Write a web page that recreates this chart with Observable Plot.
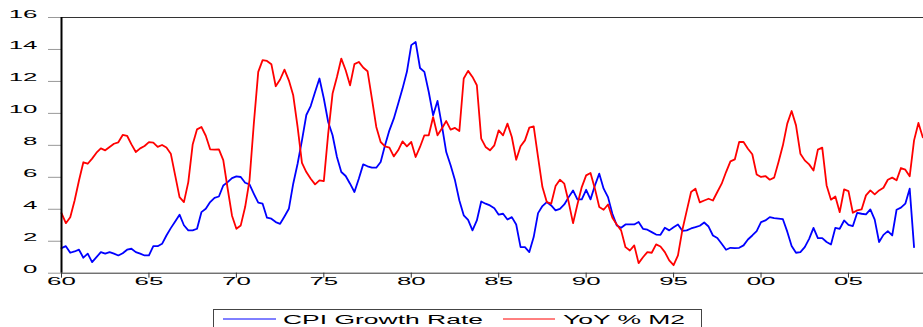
<!DOCTYPE html>
<html>
<head>
<meta charset="utf-8">
<script src="https://cdn.jsdelivr.net/npm/d3@7"></script>
<script src="https://cdn.jsdelivr.net/npm/@observablehq/plot@0.6"></script>
<style>
  html, body { margin: 0; padding: 0; background: #fff; overflow: hidden; }
  #chart svg { display: block; }
</style>
</head>
<body>
<div id="chart"></div>
<script>
// Quarterly observations, first one is 1960Q1
const startYear = 1960;

// CPI growth rate (%), 1960Q1 - 2008Q4
const cpiGrowth = [
  1.57, 1.69, 1.28, 1.36,  1.47, 0.97, 1.22, 0.69,  1.00, 1.32, 1.22, 1.32,
  1.22, 1.11, 1.25, 1.47,  1.53, 1.32, 1.22, 1.11,  1.11, 1.69, 1.69, 1.84,
  2.36, 2.82, 3.24, 3.66,  3.00, 2.68, 2.68, 2.78,  3.82, 4.03, 4.45, 4.72,
  4.80, 5.49, 5.70, 5.95,  6.06, 6.02, 5.66, 5.56,  4.97, 4.41, 4.35, 3.47,
  3.41, 3.20, 3.09, 3.55,  4.03, 5.60, 6.85, 8.31,  9.90, 10.46, 11.34, 12.18,
  10.93, 9.46, 8.63, 7.27, 6.33, 6.08, 5.60, 5.08,  5.91, 6.81, 6.69, 6.60,
  6.60, 6.96, 8.00, 8.94,  9.67, 10.61, 11.55, 12.60, 14.27, 14.47, 12.84, 12.60,
  11.34, 9.88, 10.78, 9.25, 7.58, 6.75, 5.81, 4.55, 3.62, 3.34, 2.68, 3.30,
  4.49, 4.35, 4.24, 4.07,  3.66, 3.72, 3.36, 3.51,  3.05, 1.63, 1.63, 1.32,
  2.26, 3.76, 4.20, 4.45,  4.24, 3.93, 4.03, 4.30,  4.76, 5.18, 4.62, 4.62,
  5.22, 4.62, 5.49, 6.23,  5.29, 4.76, 3.72, 2.99,  2.84, 3.05, 3.05, 3.05,
  3.20, 2.78, 2.72, 2.57,  2.42, 2.40, 2.84, 2.68,  2.88, 3.05, 2.65, 2.68,
  2.80, 2.88, 2.97, 3.17,  2.92, 2.36, 2.20, 1.84,  1.47, 1.59, 1.57, 1.59,
  1.74, 2.11, 2.36, 2.63,  3.20, 3.30, 3.51, 3.45,  3.42, 3.38, 2.60, 1.70,
  1.28, 1.32, 1.63, 2.15,  2.84, 2.20, 2.20, 1.95,  1.80, 2.84, 2.78, 3.30,
  3.03, 2.95, 3.78, 3.72,  3.68, 3.99, 3.35, 1.95,  2.40, 2.63, 2.36, 3.97,
  4.10, 4.35, 5.29, 1.63
];

// Year-over-year % change in M2, 1960Q1 - 2009Q2
const m2Growth = [
  3.76, 3.13, 3.50, 4.55,  5.80, 6.94, 6.85, 7.17,  7.54, 7.81, 7.69, 7.90,
  8.10, 8.19, 8.65, 8.60,  8.06, 7.58, 7.81, 7.96,  8.20, 8.17, 7.90, 8.02,
  7.86, 7.48, 6.12, 4.76,  4.45, 5.70, 8.05, 9.00,  9.15, 8.60, 7.75, 7.73,
  7.75, 7.08, 5.30, 3.60,  2.78, 2.99, 4.14, 5.81,  9.40, 12.60, 13.33, 13.28,
  13.08, 11.70, 12.12, 12.74, 12.07, 11.13, 9.15, 6.90, 6.33, 5.91, 5.56, 5.81,
  5.76, 8.73, 11.24, 12.28, 13.43, 12.70, 11.76, 13.08, 13.22, 12.87, 12.64, 10.93,
  9.15, 8.21, 7.94, 7.86,  7.31, 7.69, 8.25, 7.94,  8.21, 7.27, 7.90, 8.63,
  8.63, 9.77, 8.63, 9.05,  9.52, 8.98, 9.09, 8.90,  12.18, 12.66, 12.28, 11.76,
  8.42, 7.90, 7.69, 8.00,  8.94, 8.63, 9.36, 8.52,  7.10, 7.94, 8.31, 9.11,
  9.19, 7.27, 5.39, 4.45,  4.35, 5.45, 5.85, 5.60,  4.45, 3.13, 4.30, 5.39,
  6.12, 6.27, 5.29, 4.14,  3.97, 4.30, 3.47, 3.05,  2.68, 1.63, 1.42, 1.74,
  0.63, 1.00, 1.32, 1.28,  1.80, 1.67, 1.32, 0.80,  0.50, 1.11, 2.70, 3.90,
  5.08, 5.29, 4.43, 4.55,  4.66, 4.55, 5.08, 5.60,  6.33, 7.00, 7.12, 8.21,
  8.21, 7.79, 7.44, 6.18,  6.02, 6.08, 5.85, 5.98,  6.96, 8.00, 9.36, 10.15,
  9.25, 7.48, 7.06, 6.81,  6.43, 7.73, 7.86, 5.49,  4.60, 4.80, 3.82, 5.24,
  5.14, 3.78, 3.93, 3.99,  4.87, 5.18, 4.93, 5.18,  5.35, 5.85, 5.98, 5.81,
  6.58, 6.48, 6.06, 8.31,  9.40, 8.50
];

const seriesNames = ["CPI Growth Rate", "YoY % M2"];
const seriesColors = ["#0000ff", "#ff0000"];

const yTicks = [0, 2, 4, 6, 8, 10, 12, 14, 16];
const xTicks = [1960, 1965, 1970, 1975, 1980, 1985, 1990, 1995, 2000, 2005];
const xTickLabels = ["60", "65", "70", "75", "80", "85", "90", "95", "00", "05"];

const toRows = (values, name) =>
  values.map((v, i) => ({date: startYear + i / 4, value: v, series: name}));

const cpiRows = toRows(cpiGrowth, seriesNames[0]);
const m2Rows = toRows(m2Growth, seriesNames[1]);

const W = 923, H = 305;
const FONT = "'Liberation Sans', Arial, Helvetica, sans-serif";

const chart = Plot.plot({
  width: W,
  height: H,
  marginLeft: 61,
  marginRight: 0,
  marginTop: 17,
  marginBottom: H - 272.7,
  style: {fontFamily: FONT, fontSize: "11.5px", background: "#fff", color: "#000", overflow: "visible"},
  x: {domain: [1960, 2009.29], axis: null},
  y: {domain: [0, 16], axis: null},
  marks: [
    Plot.ruleY([16], {stroke: "#333", strokeWidth: 1}),
    Plot.lineY(cpiRows, {x: "date", y: "value", stroke: seriesColors[0], strokeWidth: 1.8}),
    Plot.lineY(m2Rows, {x: "date", y: "value", stroke: seriesColors[1], strokeWidth: 1.8}),
    Plot.ruleY([0], {stroke: "#333", strokeWidth: 1}),
    Plot.axisY({ticks: yTicks, tickSize: 13, tickPadding: 11, tickFormat: d => String(d),
                stroke: "#999", fill: "#000", label: null}),
    Plot.axisX({ticks: xTicks, tickSize: 5, tickPadding: 7,
                tickFormat: d => xTickLabels[xTicks.indexOf(d)], stroke: "#333", fill: "#000", label: null}),
    Plot.ruleX([1960], {stroke: "#000", strokeWidth: 2})
  ]
});

// Tick labels are set in a wide, horizontally stretched face
function stretchText(t, sx) {
  const x = +t.getAttribute("x") || 0;
  const y = +t.getAttribute("y") || 0;
  t.removeAttribute("x");
  t.removeAttribute("y");
  const tr = t.getAttribute("transform") || "";
  t.setAttribute("transform", `${tr} translate(${x},${y}) scale(${sx},1)`);
}
chart.querySelectorAll('[aria-label="x-axis tick label"] text, [aria-label="y-axis tick label"] text')
  .forEach(t => stretchText(t, 2.25));

document.getElementById("chart").appendChild(chart);

// Legend below the plot
const ns = "http://www.w3.org/2000/svg";
const legend = document.createElementNS(ns, "svg");
legend.setAttribute("width", W);
legend.setAttribute("height", 327 - H);
legend.style.display = "block";
legend.style.fontFamily = FONT;

const box = document.createElementNS(ns, "rect");
box.setAttribute("x", 213.5);
box.setAttribute("y", 4.5);
box.setAttribute("width", 488);
box.setAttribute("height", 30);
box.setAttribute("fill", "#fff");
box.setAttribute("stroke", "#444");
legend.appendChild(box);

const items = [
  {x0: 223, x1: 276, tx: 283},
  {x0: 503, x1: 555, tx: 563}
];
items.forEach((it, i) => {
  const ln = document.createElementNS(ns, "line");
  ln.setAttribute("x1", it.x0);
  ln.setAttribute("x2", it.x1);
  ln.setAttribute("y1", 14);
  ln.setAttribute("y2", 14);
  ln.setAttribute("stroke", seriesColors[i]);
  ln.setAttribute("stroke-width", 1);
  legend.appendChild(ln);
  const tx = document.createElementNS(ns, "text");
  tx.setAttribute("font-size", "13.5px");
  tx.setAttribute("fill", "#000");
  tx.setAttribute("transform", `translate(${it.tx},18.5) scale(1.96,1)`);
  tx.setAttribute("xml:space", "preserve");
  tx.style.whiteSpace = "pre";
  tx.textContent = seriesNames[i];
  legend.appendChild(tx);
});
document.getElementById("chart").appendChild(legend);
</script>
</body>
</html>
